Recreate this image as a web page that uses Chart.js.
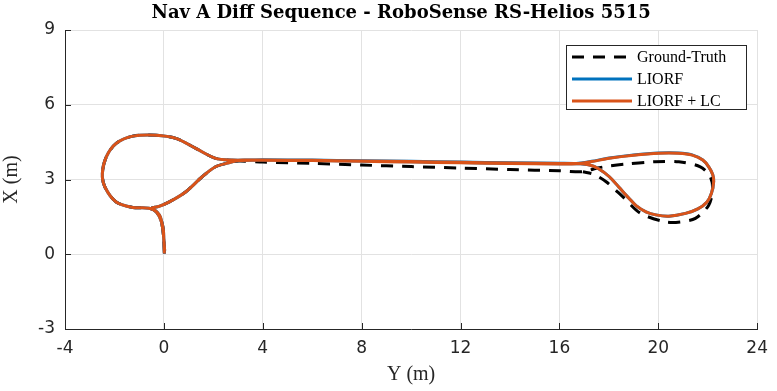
<!DOCTYPE html>
<html>
<head>
<meta charset="utf-8">
<script src="https://cdn.jsdelivr.net/npm/chart.js@4"></script>
<style>
  html, body { margin: 0; padding: 0; background: #fff; }
  canvas { display: block; }
</style>
</head>
<body>
<canvas id="chart" width="777" height="391"></canvas>
<script>
// horizontal axis is "Y (m)", vertical axis is "X (m)"
var xTicks = [-4, 0, 4, 8, 12, 16, 20, 24];
var yTicks = [-3, 0, 3, 6, 9];

// LIORF + LC trajectory
var lcY = [0.02, 0.0, -0.02, -0.1, -0.18, -0.35, -0.52, -0.2, 0.22, 0.89, 1.55, 2.09, 2.63, 3.03,
    4, 6, 8, 10, 12, 14, 16, 16.68,
    17.3, 18.02, 19.0, 20.03, 20.8, 21.37, 21.8, 22.04, 22.2, 22.24, 22.15, 21.97, 21.6, 21.1, 20.43,
    19.9, 19.5, 19.1, 18.82, 18.4, 18.02, 17.6, 17.22, 16.68,
    16, 14, 12, 10, 8, 6, 4, 3.43, 2.76, 2.09, 1.29, 0.49, -0.32, -1.26, -1.93, -2.33, -2.49, -2.39,
    -1.93, -1.26, -0.6, -0.3, -0.1, 0.0, 0.03];
var lcX = [0.03, 0.5, 0.97, 1.35, 1.57, 1.75, 1.84, 1.92, 2.10, 2.51, 3.11, 3.51, 3.67, 3.76,
    3.77, 3.76, 3.73, 3.70, 3.67, 3.64, 3.62, 3.63,
    3.72, 3.85, 3.97, 4.05, 4.05, 3.98, 3.78, 3.51, 3.2, 2.91, 2.45, 2.10, 1.82, 1.64, 1.53,
    1.58, 1.70, 1.95, 2.24, 2.7, 3.11, 3.42, 3.58, 3.64,
    3.64, 3.66, 3.69, 3.72, 3.74, 3.77, 3.78, 3.78, 3.78, 3.85, 4.25, 4.65, 4.78, 4.74, 4.45, 3.91, 3.24, 2.71,
    2.10, 1.88, 1.85, 1.7, 1.3, 0.6, 0.15];

// LIORF trajectory (lies under LIORF + LC almost everywhere)
var liorfY = [0.02, 0.0, -0.02, -0.1, -0.18, -0.35, -0.52, -0.2, 0.22, 0.89, 1.55, 2.09, 2.63, 3.03,
    4, 6, 8, 10, 12, 14, 16, 16.68,
    17.3, 18.02, 19.0, 20.03, 20.8, 21.37, 21.8, 22.04, 22.2, 22.24, 22.15, 21.97, 21.6, 21.1, 20.43,
    19.9, 19.5, 19.1, 18.82, 18.4, 18.02, 17.6, 17.22, 16.68,
    16, 14, 12, 10, 8, 6, 4, 3.43, 2.76, 2.09, 1.29, 0.49, -0.32, -1.26, -1.93, -2.33, -2.49, -2.39,
    -1.93, -1.26, -0.6, -0.3, -0.1, 0.0, 0.03];
var liorfX = [0.03, 0.5, 0.97, 1.35, 1.57, 1.75, 1.84, 1.92, 2.10, 2.51, 3.11, 3.51, 3.67, 3.76,
    3.78, 3.77, 3.74, 3.71, 3.68, 3.65, 3.63, 3.64,
    3.73, 3.86, 3.98, 4.06, 4.06, 3.99, 3.78, 3.51, 3.2, 2.91, 2.45, 2.10, 1.82, 1.64, 1.53,
    1.58, 1.70, 1.95, 2.24, 2.7, 3.11, 3.42, 3.58, 3.64,
    3.65, 3.67, 3.70, 3.73, 3.75, 3.78, 3.79, 3.78, 3.78, 3.85, 4.25, 4.65, 4.78, 4.74, 4.45, 3.91, 3.24, 2.71,
    2.10, 1.88, 1.85, 1.7, 1.3, 0.6, 0.15];

// Ground-Truth trajectory, null marks a break so the straight part is only dashed once
var gtY = [0.02, 0.0, -0.02, -0.1, -0.18, -0.35, -0.52, -0.2, 0.22, 0.89, 1.55, 2.09, 2.63, 3.03,
    4, 6, 8, 10, 12, 14, 16, 16.95,
    17.5, 18.0, 18.69, 19.83, 20.83, 21.7, 22.1, 22.2, 22.04, 21.5, 20.9, 20.3,
    19.29, 18.56, 17.89, 17.4, 16.95,
    null,
    3.03, 2.09, 1.29, 0.49, -0.32, -1.26, -1.93, -2.33, -2.49, -2.39,
    -1.93, -1.26, -0.6, -0.3, -0.1, 0.0, 0.03];
var gtX = [0.03, 0.5, 0.97, 1.35, 1.57, 1.75, 1.84, 1.92, 2.10, 2.51, 3.11, 3.51, 3.67, 3.74,
    3.70, 3.65, 3.58, 3.52, 3.46, 3.40, 3.35, 3.31,
    3.45, 3.54, 3.62, 3.71, 3.71, 3.51, 3.11, 2.6, 1.97, 1.44, 1.30, 1.30,
    1.64, 2.31, 2.91, 3.2, 3.31,
    null,
    3.74, 3.85, 4.25, 4.65, 4.78, 4.74, 4.45, 3.91, 3.24, 2.71,
    2.10, 1.88, 1.85, 1.7, 1.3, 0.6, 0.15];

var titleText = 'Nav A Diff Sequence - RoboSense RS-Helios 5515';
var legendNames = ['Ground-Truth', 'LIORF', 'LIORF + LC'];

function toPoints(xs, ys) {
    var pts = [];
    for (var i = 0; i < xs.length; i++)
        pts.push({ x: xs[i], y: ys[i] });
    return pts;
}

var axisColor = '#262626';
var gridColor = '#e2e2e2';

// title, inward tick marks and boxed legend like the matlab figure
var extras = {
    id: 'extras',
    afterDraw: function(chart) {
        var ctx = chart.ctx;
        var area = chart.chartArea;
        var sx = chart.scales.x, sy = chart.scales.y;
        ctx.save();

        ctx.strokeStyle = axisColor;
        ctx.lineWidth = 1;
        ctx.beginPath();
        xTicks.forEach(function(t) {
            var px = Math.round(sx.getPixelForValue(t)) + 0.5;
            ctx.moveTo(px, area.bottom);
            ctx.lineTo(px, area.bottom - 6);
        });
        yTicks.forEach(function(t) {
            var py = Math.round(sy.getPixelForValue(t)) + 0.5;
            ctx.moveTo(area.left, py);
            ctx.lineTo(area.left + 6, py);
        });
        ctx.stroke();

        ctx.fillStyle = '#000';
        ctx.font = 'bold 18px "DejaVu Serif"';
        ctx.textAlign = 'center';
        ctx.textBaseline = 'middle';
        ctx.fillText(titleText, (area.left + area.right) / 2 - 10, 13);

        // legend
        var bx = 566.5, by = 45.5, bw = 180, bh = 64;
        ctx.fillStyle = '#fff';
        ctx.fillRect(bx, by, bw, bh);
        ctx.strokeStyle = axisColor;
        ctx.strokeRect(bx, by, bw, bh);
        ctx.font = '16px "Liberation Serif"';
        ctx.textAlign = 'left';
        chart.data.datasets.forEach(function(ds, i) {
            var y = 57 + i * 22;
            ctx.strokeStyle = ds.borderColor;
            ctx.lineWidth = 3;
            ctx.setLineDash(ds.borderDash || []);
            ctx.beginPath();
            ctx.moveTo(572, y);
            ctx.lineTo(632, y);
            ctx.stroke();
            ctx.setLineDash([]);
            ctx.fillStyle = '#000';
            ctx.fillText(legendNames[i], 637, y + 1);
        });
        ctx.restore();
    }
};

new Chart(document.getElementById('chart'), {
    type: 'scatter',
    data: {
        datasets: [{
            label: legendNames[0],
            data: toPoints(gtY, gtX),
            borderColor: '#000000',
            borderDash: [12, 9],
            borderWidth: 3,
            showLine: true,
            spanGaps: false,
            pointRadius: 0,
            tension: 0.3,
            order: 3
        }, {
            label: legendNames[1],
            data: toPoints(liorfY, liorfX),
            borderColor: '#0072BD',
            borderWidth: 3,
            showLine: true,
            pointRadius: 0,
            tension: 0.3,
            order: 2
        }, {
            label: legendNames[2],
            data: toPoints(lcY, lcX),
            borderColor: '#D95319',
            borderWidth: 3,
            showLine: true,
            pointRadius: 0,
            tension: 0.3,
            order: 1
        }]
    },
    options: {
        responsive: false,
        animation: false,
        layout: { padding: { top: 30, right: 15, left: 0, bottom: 0 } },
        plugins: {
            legend: { display: false },
            tooltip: { enabled: false },
            title: { display: false }
        },
        scales: {
            x: {
                type: 'linear',
                min: -4,
                max: 24,
                afterFit: function(scale) { scale.height = 62; },
                afterBuildTicks: function(scale) {
                    scale.ticks = xTicks.map(function(v) { return { value: v }; });
                },
                ticks: {
                    color: axisColor,
                    font: { family: 'DejaVu Sans', size: 17 },
                    padding: 9,
                    maxRotation: 0
                },
                grid: { color: gridColor, drawTicks: false },
                border: { color: axisColor, width: 1 },
                title: {
                    display: true,
                    text: 'Y (m)',
                    color: axisColor,
                    font: { family: 'Liberation Serif', size: 20 },
                    padding: { top: 2, bottom: 4 }
                }
            },
            y: {
                type: 'linear',
                min: -3,
                max: 9,
                afterFit: function(scale) { scale.width = 65; },
                afterBuildTicks: function(scale) {
                    scale.ticks = yTicks.map(function(v) { return { value: v }; });
                },
                ticks: {
                    color: axisColor,
                    font: { family: 'DejaVu Sans', size: 17 },
                    padding: 10
                },
                grid: { color: gridColor, drawTicks: false },
                border: { color: axisColor, width: 1 },
                title: {
                    display: true,
                    text: 'X (m)',
                    color: axisColor,
                    font: { family: 'Liberation Serif', size: 20 },
                    padding: { top: 0, bottom: 4 }
                }
            }
        }
    },
    plugins: [extras]
});
</script>
</body>
</html>
